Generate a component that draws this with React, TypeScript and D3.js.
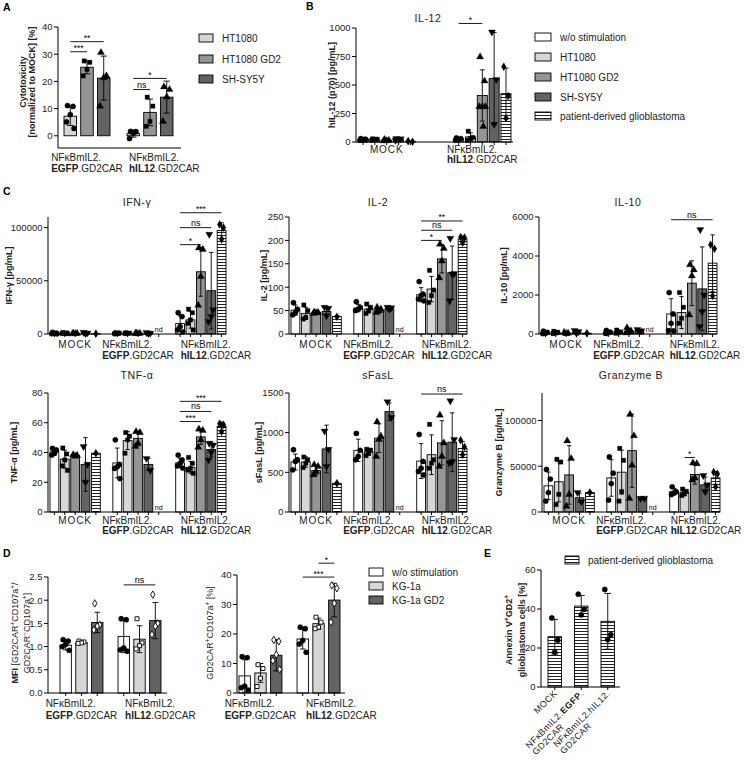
import React, { useEffect, useRef } from 'react';
import * as d3 from 'd3';

const FONT = 'Liberation Sans, Arial, Helvetica, sans-serif';

// ---- Panel A: cytotoxicity
const aSeries = ['HT1080', 'HT1080 GD2', 'SH-SY5Y'];
const aTicks = [0, 10, 20, 30, 40];
const aMeans = [[7.2, 25.2, 21.2], [0.8, 8.6, 14.2]];
const aSds = [[3.4, 2.4, 8.1], [1.3, 4.9, 5.9]];
const aDots = [
  [[11.1, 10.8, 7.8, 5.1, 2.7], [27.5, 27.0, 24.4, 22.0], [30.6, 22.0, 21.4, 10.9]],
  [[1.6, 1.5, 1.0, -1.0], [14.2, 10.9, 5.3, 3.5], [18.0, 17.0, 14.3, 5.3]],
];
const aSig = [[0, 0, 1, '***', 30.9], [0, 0, 2, '**', 34.6], [1, 0, 1, 'ns', 17], [1, 0, 2, '*', 21.1]];

// ---- Panel B: IL-12
const bSeries = ['w/o stimulation', 'HT1080', 'HT1080 GD2', 'SH-SY5Y', 'patient-derived glioblastoma'];
const bTicks = [0, 250, 500, 750, 1000];
const bMeans = [[22, 20, 15, 22, 5], [25, 45, 408, 556, 424]];
const bSds = [[6, 6, 5, 7, 4], [9, 35, 225, 405, 225]];
const bDots = [
  [[30, 25, 20, 15, 18], [28, 25, 20, 15], [22, 15, 12, 10], [30, 28, 18, 15], [8, 2]],
  [[35, 30, 20, 15], [95, 40, 30, 15], [746, 535, 310, 310, 310, 137], [965, 547, 155], [660, 403, 210]],
];
const bSig = [[1, 0, 2, '*', 1040]];

// ---- Panel C: cytokines
const ifnTicks = [0, 50000, 100000];
const ifnMeans = [[700, 800, 500, 900, 300], [600, 700, 600, 800, null], [9800, 13300, 58500, 40700, 97300]];
const ifnSds = [[400, 400, 300, 500, 200], [300, 300, 300, 400, null], [7400, 7800, 23000, 36000, 7300]];
const ifnDots = [
  [[1500, 900, 500, 300, 200], [1400, 1000, 600, 400, 300], [900, 600, 400, 200], [1600, 1000, 400], [300]],
  [[1100, 800, 500, 300], [1200, 800, 600, 400], [1000, 700, 400, 300], [1300, 700, 500], []],
  [[20000, 16400, 7000, 3800, 2000], [23300, 20000, 13200, 10000, 3800], [81000, 79500, 54000, 27000], [93700, 22700, 16400, 11700], [103000, 100000, 89000]],
];
const ifnSig = [[2, 0, 2, '*', 84000], [2, 0, 3, 'ns', 100000], [2, 0, 4, '***', 114000]];

const il2Ticks = [0, 50, 100, 150, 200, 250];
const il2Means = [[51, 44, 46, 48, 37.5], [55.5, 53, 50, 54, null], [84, 96, 160.5, 131, 203]];
const il2Sds = [[11, 13, 3, 9, 2], [8, 8, 5, 3, null], [15, 27, 30, 57, 6]];
const il2Dots = [
  [[67, 53, 46, 41], [62, 50, 35.5, 32], [47, 46, 45, 44], [57, 55, 39], [37]],
  [[69, 57, 53, 50], [64, 57, 50, 44], [57, 53, 50, 46], [57, 56, 53], []],
  [[112, 85, 82, 74.6, 71], [136, 94, 82, 67.5], [191.8, 183, 156, 120], [204.5, 129, 128, 71], [207, 206, 195]],
];
const il2Sig = [[2, 0, 2, '*', 200], [2, 0, 3, 'ns', 221.6], [2, 0, 4, '**', 241.5]];

const il10Ticks = [0, 2000, 4000, 6000];
const il10Means = [[60, 70, 40, 90, 40], [90, 100, 150, 180, null], [1029, 1097, 2606, 2314, 3634]];
const il10Sds = [[50, 50, 40, 60, 20], [60, 70, 100, 50, null], [780, 820, 1150, 2150, 1450]];
const il10Dots = [
  [[150, 80, 40, 20], [140, 90, 50, 20], [80, 40, 20], [180, 120, 40], [40]],
  [[180, 100, 60, 30], [200, 110, 70, 40], [320, 160, 90, 50], [230, 170, 150], []],
  [[2126, 1029, 550, 170, 160], [2126, 1371, 806, 550], [3550, 3290, 2983, 977], [5350, 2000, 1150, 377], [4577, 4371, 1954]],
];
const il10Sig = [[2, 0, 4, 'ns', 5860]];

const tnfTicks = [0, 20, 40, 60, 80];
const tnfMeans = [[40.5, 35.5, 38, 32, 39.5], [33, 48, 49.5, 32, null], [33, 30, 50.5, 42, 57.5]];
const tnfSds = [[2, 6, 1, 18, 0.5], [10, 6, 5, 4, null], [3, 4, 5, 5, 3]];
const tnfDots = [
  [[42.8, 41.7, 39.4, 38.3], [43, 39, 35, 31, 28], [38.5, 38, 37.5], [44, 32, 20], [39.5]],
  [[48.5, 32, 30.4, 29.3, 22.5], [53.4, 51, 48.5, 39.5], [54, 53.4, 46.2, 44], [36, 28], []],
  [[38.3, 35, 32.7, 31, 29.5], [36.7, 32.7, 29.3, 28.2, 26], [55.7, 54.8, 48.5, 43.5], [46.2, 45, 40, 35], [59.3, 58.6, 54]],
];
const tnfSig = [[2, 0, 2, '***', 60.8], [2, 0, 3, 'ns', 67.6], [2, 0, 4, '***', 74.4]];

const sfTicks = [0, 500, 1000, 1500];
const sfMeans = [[630, 630, 523, 795, 361], [778, 756, 931, 1266, null], [642, 722, 871, 880, 799]];
const sfSds = [[100, 65, 55, 300, 10], [140, 40, 180, 110, null], [220, 250, 280, 370, 90]];
const sfDots = [
  [[786, 659, 637, 531], [693, 659, 616, 560], [595, 574, 510, 467], [1020, 790, 574], [361]],
  [[990, 778, 701, 659], [790, 780, 740, 710], [1135, 956, 914, 701], [1390, 1190], []],
  [[977, 637, 552, 510, 467], [1105, 659, 616, 552], [1220, 871, 701, 574], [1402, 914, 637, 616], [905, 820, 722]],
];
const sfSig = [[2, 0, 4, 'ns', 1487]];

const gzTicks = [0, 50000, 100000];
const gzMeans = [[28600, 33000, 40500, 15600, 21200], [37200, 43500, 67000, 14900, null], [22300, 21200, 41000, 29700, 37200]];
const gzSds = [[15000, 22000, 32000, 5000, 1000], [20000, 24000, 40000, 1000, null], [3500, 3500, 10500, 8500, 7000]];
const gzDots = [
  [[46500, 36000, 21200, 11900], [57600, 54600, 19300, 8200], [77700, 58400, 19300, 6300], [21200, 11200], [21200]],
  [[60200, 42400, 31000, 13000], [69500, 56500, 22300, 11900], [106700, 83300, 51000, 14900], [14900, 15000], []],
  [[27500, 22300, 20800, 19000], [25000, 22500, 20000, 18000], [53500, 52800, 37200, 35000], [39800, 29700, 22300], [43500, 41600, 27500]],
];
const gzSig = [[2, 1, 2, '*', 59500]];

// ---- Panel D: degranulation
const dSeries = ['w/o stimulation', 'KG-1a', 'KG-1a GD2'];
const mfiTicks = [0, 0.5, 1, 1.5, 2, 2.5];
const mfiMeans = [[1.03, 1.09, 1.52], [1.22, 1.16, 1.56]];
const mfiSds = [[0.1, 0.03, 0.22], [0.35, 0.29, 0.39]];
const mfiDots = [
  [[1.15, 1.12, 1.05, 1.0, 0.92], [1.12, 1.1, 1.08, 1.07], [1.93, 1.47, 1.44, 1.36]],
  [[1.6, 1.58, 0.97, 0.93, 0.9], [1.6, 1.08, 1.02, 0.95], [2.12, 1.5, 1.44, 1.26]],
];
const mfiSig = [[1, 0, 2, 'ns', 2.33]];
const pctTicks = [0, 10, 20, 30, 40];
const pctMeans = [[5.8, 6.8, 12.8], [18.3, 23.5, 31.5]];
const pctSds = [[5.5, 3.2, 5.3], [3.4, 1.9, 5.7]];
const pctDots = [
  [[12.3, 12, 2.3, 1.8, 1], [9.6, 8.3, 5, 2.2], [18, 17.5, 13, 11, 8]],
  [[22.3, 21.8, 17.8, 16.6, 13.8], [25.7, 24, 22.3, 21.8], [36.5, 35.5, 30.4, 24]],
];
const pctSig = [[1, 0, 2, '***', 39.3], [1, 1, 2, '*', 44]];

// ---- Panel E: glioblastoma killing
const eSeries = ['patient-derived glioblastoma'];
const eTicks = [0, 20, 40, 60];
const eMeans = [[25.8, 41.5, 33.7]];
const eSds = [[8.9, 5.4, 14.3]];
const eDots = [[[35.4, 24, 17.9], [47.6, 39.8, 37], [50, 26.8, 24.3]]];

// group tick labels
const grpMock = { lines: [[{ t: 'MOCK' }]], ls: 0.9 };
const grpEgfp = { lines: [[{ t: 'NFκBmIL2.' }], [{ t: 'EGFP', b: true }, { t: '.GD2CAR' }]] };
const grpHil12 = { lines: [[{ t: 'NFκBmIL2.' }], [{ t: 'hIL12', b: true }, { t: '.GD2CAR' }]], start: 5 };
const grpHil12c = { lines: [[{ t: 'NFκBmIL2.' }], [{ t: 'hIL12', b: true }, { t: '.GD2CAR' }]] };
const eLabels = [
  [[{ t: 'MOCK' }]],
  [[{ t: 'NFκBmIL2.' }, { t: 'EGFP', b: true }, { t: '.' }], [{ t: 'GD2CAR' }]],
  [[{ t: 'NFκBmIL2.hIL12.' }], [{ t: 'GD2CAR' }]],
];

const FILL5 = ['#ffffff', '#d6d6d6', '#959595', '#636363', 'url(#stripes)'];
const SHAPE5 = ['circle', 'square', 'triUp', 'triDown', 'diamond'];

function symPath(kind: string) {
  const m: any = {
    circle: [d3.symbolCircle, 22], square: [d3.symbolSquare, 19], triUp: [d3.symbolTriangle, 22],
    triDown: [d3.symbolTriangle, 22], diamond: [d3.symbolDiamond, 19],
    squareOpen: [d3.symbolSquare, 16], diamondOpen: [d3.symbolDiamond, 16], circleOpen: [d3.symbolCircle, 16],
  };
  const [t, s] = m[kind];
  return d3.symbol().type(t).size(s)() as string;
}

function addSegs(text: any, segs: any[], fs: number) {
  let up = false;
  segs.forEach((s) => {
    const ts = text.append('tspan').text(s.t);
    if (s.b) ts.attr('font-weight', 'bold');
    if (s.sup) {
      ts.attr('font-size', fs * 0.7);
      if (!up) ts.attr('dy', -fs * 0.38);
      up = true;
    } else if (up) {
      ts.attr('dy', fs * 0.38);
      up = false;
    }
  });
}

function drawChart(root: any, c: any) {
  const g = root.append('g');
  const y = d3.scaleLinear().domain(c.domain).range([c.yBase, c.yTop]);
  const xg = d3.scaleBand<string>().domain(c.means.map((_: any, i: number) => String(i))).range(c.gRange).paddingInner(c.gPad);
  const nb = c.means[0].length;
  const xb = d3.scaleBand<string>().domain(d3.range(nb).map(String)).range([0, xg.bandwidth()]).paddingInner(c.bPad);
  const bw = xb.bandwidth();
  const cx = (gi: number, bi: number) => (xg(String(gi)) as number) + (xb(String(bi)) as number) + bw / 2;
  const y0 = y(0);
  const axisY = c.yBase;

  // bars
  c.means.forEach((row: any[], gi: number) => row.forEach((m, bi) => {
    if (m == null) {
      g.append('text').attr('x', cx(gi, bi)).attr('y', y0 - 2).attr('text-anchor', 'middle')
        .attr('font-size', 7).attr('font-family', FONT).text('nd');
      return;
    }
    g.append('rect').attr('x', cx(gi, bi) - bw / 2).attr('y', Math.min(y(m), y0)).attr('width', bw)
      .attr('height', Math.abs(y0 - y(m))).attr('fill', c.fills[bi]).attr('stroke', '#000').attr('stroke-width', 0.9);
  }));
  // error bars
  c.means.forEach((row: any[], gi: number) => row.forEach((m, bi) => {
    if (m == null) return;
    const sd = c.sds[gi][bi];
    const x = cx(gi, bi);
    const cw = Math.max(2.2, bw * 0.25);
    g.append('line').attr('x1', x).attr('x2', x).attr('y1', y(m - sd)).attr('y2', y(m + sd)).attr('stroke', '#000').attr('stroke-width', 0.9);
    [m - sd, m + sd].forEach((v) => g.append('line').attr('x1', x - cw).attr('x2', x + cw).attr('y1', y(v)).attr('y2', y(v)).attr('stroke', '#000').attr('stroke-width', 0.9));
  }));
  // dots
  const pat = [-0.22, 0.22, 0, -0.3, 0.3, 0.1, -0.1];
  c.dots.forEach((row: any[], gi: number) => row.forEach((pts: number[], bi: number) => {
    const kind = c.shapes[bi];
    const open = /Open/.test(kind);
    pts.forEach((v, j) => {
      const x = cx(gi, bi) + (pts.length > 1 ? pat[j % pat.length] * bw : 0);
      g.append('path').attr('d', symPath(kind))
        .attr('transform', `translate(${x},${y(v)})${kind === 'triDown' ? ' rotate(180)' : ''}`)
        .attr('fill', open ? '#fff' : '#000').attr('stroke', '#000').attr('stroke-width', open ? 0.9 : 0.3);
    });
  }));

  // y axis
  g.append('line').attr('x1', c.x0).attr('x2', c.x0).attr('y1', axisY).attr('y2', c.yTop).attr('stroke', '#000').attr('stroke-width', 1);
  c.ticks.forEach((t: number) => {
    g.append('line').attr('x1', c.x0 - 4).attr('x2', c.x0).attr('y1', y(t)).attr('y2', y(t)).attr('stroke', '#000');
    g.append('text').attr('x', c.x0 - 5.5).attr('y', y(t) + 3.4).attr('text-anchor', 'end').attr('font-size', 9.5)
      .attr('font-family', FONT).attr('fill', '#222').text(c.fmt ? c.fmt(t) : String(t));
  });
  // x axis
  g.append('line').attr('x1', c.x0).attr('x2', c.x1).attr('y1', axisY).attr('y2', axisY).attr('stroke', '#000').attr('stroke-width', 1);
  if (c.xTicks) {
    c.means.forEach((row: any[], gi: number) => row.forEach((_: any, bi: number) => {
      g.append('line').attr('x1', cx(gi, bi)).attr('x2', cx(gi, bi)).attr('y1', axisY).attr('y2', axisY + 3).attr('stroke', '#000');
    }));
  }
  // group labels
  (c.groups || []).forEach((grp: any, gi: number) => {
    const gx = xg(String(gi)) as number;
    const center = gx + xg.bandwidth() / 2;
    const texts = grp.lines.map((segs: any[], li: number) => {
      const t = g.append('text').attr('y', axisY + c.lab[li]).attr('font-size', 10).attr('font-family', FONT)
        .attr('fill', '#222').attr('letter-spacing', grp.ls ?? 0);
      addSegs(t, segs, 10);
      return t;
    });
    if (texts.length === 1) {
      texts[0].attr('x', center).attr('text-anchor', 'middle');
    } else {
      const w = Math.max(...texts.map((t: any) => t.node().getComputedTextLength()));
      const x0 = grp.start != null ? gx + (c.startOff ?? grp.start) : center - w / 2;
      texts.forEach((t: any) => t.attr('x', x0));
    }
  });
  // significance
  (c.sig || []).forEach(([gi, a, b, lab, v]: any) => {
    g.append('line').attr('x1', cx(gi, a)).attr('x2', cx(gi, b)).attr('y1', y(v)).attr('y2', y(v)).attr('stroke', '#000').attr('stroke-width', 0.9);
    g.append('text').attr('x', (cx(gi, a) + cx(gi, b)) / 2).attr('y', y(v) - (lab === 'ns' ? 2 : 0.5)).attr('text-anchor', 'middle')
      .attr('font-size', lab === 'ns' ? 9 : 8.5).attr('font-family', FONT).text(lab);
  });
  // title
  if (c.title) {
    g.append('text').attr('x', c.titleX ?? (c.x0 + c.x1) / 2).attr('y', c.titleY).attr('text-anchor', 'middle')
      .attr('font-size', 10.5).attr('letter-spacing', 0.6).attr('font-family', FONT).attr('fill', '#222').text(c.title);
  }
  // y label
  const cy = c.labY ?? (axisY + c.yTop) / 2;
  c.ylab.forEach((segs: any[], li: number) => {
    const t = g.append('text').attr('transform', `translate(${c.labX[li]},${cy}) rotate(-90)`).attr('text-anchor', 'middle')
      .attr('font-size', 9).attr('font-family', FONT).attr('font-weight', c.labBold ? 'bold' : 'normal').attr('fill', '#222');
    addSegs(t, segs, 9);
  });
  return { cx, y, axisY };
}

function drawLegend(root: any, x: number, ys: number[], fills: string[], labels: string[], w: number) {
  ys.forEach((yy, i) => {
    root.append('rect').attr('x', x).attr('y', yy - 4).attr('width', w).attr('height', 8)
      .attr('fill', fills[i]).attr('stroke', '#000').attr('stroke-width', 0.9);
    root.append('text').attr('x', x + w + 9).attr('y', yy + 3.5).attr('font-size', 10).attr('font-family', FONT)
      .attr('fill', '#222').text(labels[i]);
  });
}

export default function App() {
  const ref = useRef<SVGSVGElement>(null);

  useEffect(() => {
    const svg = d3.select(ref.current);
    svg.selectAll('*').remove();
    const pat = svg.append('defs').append('pattern').attr('id', 'stripes').attr('patternUnits', 'userSpaceOnUse')
      .attr('width', 6).attr('height', 3);
    pat.append('rect').attr('width', 6).attr('height', 3).attr('fill', '#fff');
    pat.append('rect').attr('width', 6).attr('height', 1).attr('y', 1).attr('fill', '#222');

    // panel letters
    [['A', 3, 11], ['B', 306, 10], ['C', 3, 195], ['D', 3, 557], ['E', 484, 557]].forEach(([l, x, yy]) => {
      svg.append('text').attr('x', x).attr('y', yy).attr('font-size', 10.5).attr('font-weight', 'bold').attr('font-family', FONT).text(l as string);
    });

    const cFmt = (t: number) => String(t);
    // A
    drawChart(svg, {
      x0: 58, x1: 181, yBase: 148, yTop: 27, domain: [-4.5, 40], ticks: aTicks, gRange: [64, 173], gPad: 0.27, bPad: 0.25,
      means: aMeans, sds: aSds, dots: aDots, fills: ['#d6d6d6', '#959595', '#636363'], shapes: ['circle', 'square', 'triUp'],
      groups: [grpEgfp, grpHil12], lab: [12.5, 23.5], sig: aSig, xTicks: false, startOff: 2,
      ylab: [[{ t: 'Cytotoxicity' }], [{ t: '[normalized to MOCK] [%]' }]], labX: [26, 35], labBold: true, labY: 82,
    });
    drawLegend(svg, 199, [38, 59, 79], ['#d6d6d6', '#959595', '#636363'], aSeries, 14);

    // B
    drawChart(svg, {
      x0: 356, x1: 513, yBase: 142, yTop: 28, domain: [0, 1000], ticks: bTicks, gRange: [358, 511], gPad: 0.4, bPad: 0.15,
      means: bMeans, sds: bSds, dots: bDots, fills: FILL5, shapes: SHAPE5, groups: [grpMock, grpHil12c], lab: [10.5, 20.5],
      sig: bSig, xTicks: true, title: 'IL-12', titleX: 428, titleY: 22,
      ylab: [[{ t: 'hIL-12 (p70) [pg/mL]' }]], labX: [335], labBold: true,
    });
    drawLegend(svg, 535, [37, 57, 77, 97, 116], FILL5, bSeries, 16);

    // C
    const top = { yBase: 334, yTop: 217, titleY: 206, lab: [13.5, 24.5] };
    const bot = { yBase: 512, yTop: 393, titleY: 379, lab: [11.5, 22] };
    const cCommon = { gPad: 0.2, bPad: 0.15, fills: FILL5, shapes: SHAPE5, groups: [grpMock, grpEgfp, grpHil12], xTicks: true, labBold: true, fmt: cFmt };
    const cfgs = [
      { ...top, x0: 48, domain: [0, 110000], ticks: ifnTicks, means: ifnMeans, sds: ifnSds, dots: ifnDots, sig: ifnSig, title: 'IFN-γ', ylab: [[{ t: 'IFN-γ [pg/mL]' }]], labX: [12] },
      { ...top, x0: 289, domain: [0, 250], ticks: il2Ticks, means: il2Means, sds: il2Sds, dots: il2Dots, sig: il2Sig, title: 'IL-2', ylab: [[{ t: 'IL-2 [pg/mL]' }]], labX: [267] },
      { ...top, x0: 539, domain: [0, 6000], ticks: il10Ticks, means: il10Means, sds: il10Sds, dots: il10Dots, sig: il10Sig, title: 'IL-10', ylab: [[{ t: 'IL-10 [pg/mL]' }]], labX: [507], startOff: 3 },
      { ...bot, x0: 48, domain: [0, 80], ticks: tnfTicks, means: tnfMeans, sds: tnfSds, dots: tnfDots, sig: tnfSig, title: 'TNF-α', ylab: [[{ t: 'TNF-α [pg/mL]' }]], labX: [17] },
      { ...bot, x0: 289, domain: [0, 1500], ticks: sfTicks, means: sfMeans, sds: sfSds, dots: sfDots, sig: sfSig, title: 'sFasL', ylab: [[{ t: 'sFasL [pg/mL]' }]], labX: [262] },
      { ...bot, x0: 542, domain: [0, 130000], ticks: gzTicks, means: gzMeans, sds: gzSds, dots: gzDots, sig: gzSig, title: 'Granzyme B', ylab: [[{ t: 'Granzyme B [pg/mL]' }]], labX: [502], startOff: 1 },
    ];
    cfgs.forEach((c) => drawChart(svg, { ...cCommon, ...c, x1: c.x0 + 178, gRange: [c.x0 + 2, c.x0 + 178] }));

    // D
    const dFills = ['#ffffff', '#d6d6d6', '#636363'];
    const dShapes = ['circle', 'squareOpen', 'diamondOpen'];
    drawChart(svg, {
      x0: 48, x1: 167, yBase: 693, yTop: 577, domain: [0, 2.5], ticks: mfiTicks, fmt: (t: number) => t.toFixed(1),
      gRange: [60, 161], gPad: 0.26, bPad: 0.28, means: mfiMeans, sds: mfiSds, dots: mfiDots, fills: dFills, shapes: dShapes,
      groups: [grpEgfp, grpHil12], lab: [13.5, 25.5], sig: mfiSig, xTicks: true, startOff: 7,
      ylab: [
        [{ t: 'MFI', b: true }, { t: ' [GD2CAR' }, { t: '+', sup: true }, { t: 'CD107a' }, { t: '+', sup: true }, { t: '/' }],
        [{ t: 'GD2CAR' }, { t: '−', sup: true }, { t: 'CD107a' }, { t: '+', sup: true }, { t: ']' }],
      ],
      labX: [18, 30], labY: 633,
    });
    drawChart(svg, {
      x0: 237, x1: 345, yBase: 693, yTop: 575, domain: [0, 40], ticks: pctTicks,
      gRange: [239, 340], gPad: 0.26, bPad: 0.28, means: pctMeans, sds: pctSds, dots: pctDots, fills: dFills, shapes: dShapes,
      groups: [grpEgfp, grpHil12], lab: [13.5, 25.5], sig: pctSig, xTicks: true, startOff: 9,
      ylab: [[{ t: 'GD2CAR' }, { t: '+', sup: true }, { t: 'CD107a' }, { t: '+', sup: true }, { t: ' [%]' }]], labX: [213], labY: 633,
    });
    drawLegend(svg, 369, [572, 586, 600], dFills, dSeries, 14);

    // E
    const e = drawChart(svg, {
      x0: 541, x1: 620, yBase: 687, yTop: 570, domain: [0, 60], ticks: eTicks, gRange: [548, 614.5], gPad: 0, bPad: 0.49,
      means: eMeans, sds: eSds, dots: eDots, fills: ['url(#stripes)', 'url(#stripes)', 'url(#stripes)'], shapes: ['circle', 'circle', 'circle'],
      groups: [], lab: [0], xTicks: true, labBold: true,
      ylab: [[{ t: 'Annexin V' }, { t: '+', sup: true }, { t: 'GD2' }, { t: '+', sup: true }], [{ t: 'glioblastoma cells [%]' }]],
      labX: [512, 525], labY: 630,
    });
    eLabels.forEach((lines, bi) => {
      const gg = svg.append('g').attr('transform', `translate(${e.cx(0, bi) + 3},${e.axisY + 7}) rotate(-45)`);
      const texts = lines.map((segs: any[], li: number) => {
        const t = gg.append('text').attr('y', li * 9.5).attr('font-size', 9).attr('letter-spacing', 0.4)
          .attr('font-family', FONT).attr('fill', '#222');
        addSegs(t, segs, 9);
        return t;
      });
      const w = (texts[0].node() as any).getComputedTextLength();
      texts.forEach((t: any) => t.attr('x', -w));
    });
    drawLegend(svg, 565, [560], ['url(#stripes)'], eSeries, 14);
  }, []);

  return <svg ref={ref} width={744} height={760} style={{ position: 'absolute', left: 0, top: 0, background: '#fff' }} />;
}
